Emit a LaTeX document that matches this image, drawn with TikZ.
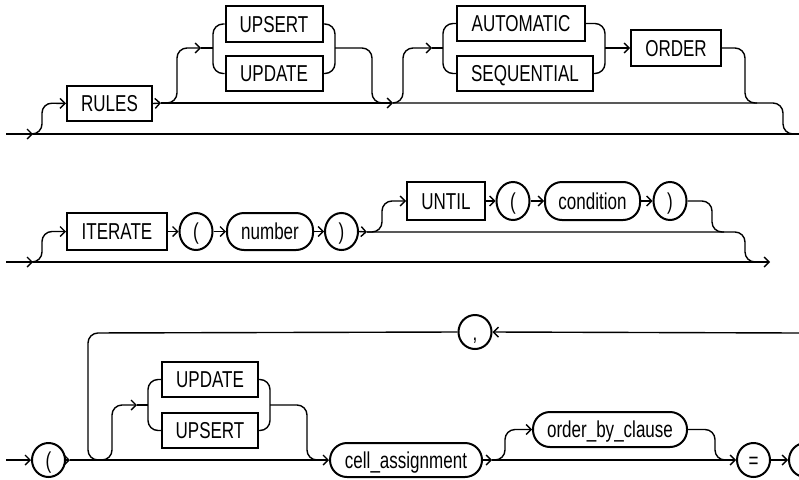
\documentclass[tikz,border=0pt]{standalone}
\usepackage{fontspec}
\setmainfont{Liberation Sans}[FakeStretch=0.74]
\usetikzlibrary{arrows.meta,shapes.geometric}
\begin{document}
\begin{tikzpicture}[x=1pt,y=-1pt,
  conn/.style={line width=1.4pt, rounded corners=10pt},
  arr/.style={-{Straight Barb[length=5pt,width=10pt]}},
  box/.style={draw, line width=2pt, inner sep=0pt, text height=16.5pt, text depth=0pt, font=\fontsize{23}{25}\selectfont},
  kwbox/.style={box, rectangle},
  termbox/.style={box, rectangle, rounded corners=17pt},
  circbox/.style={box, ellipse, minimum width=33pt},
]
\clip (0,0) rectangle (799,479);
\useasboundingbox (0,0) rectangle (799,479);

% ---------- row 1 ----------
\node[kwbox, minimum width=85pt, minimum height=35pt] (RULES) at (109.5,103.5) {RULES};
\node[kwbox, minimum width=97pt, minimum height=36pt] (UPSERTa) at (274,24) {UPSERT};
\node[kwbox, minimum width=97pt, minimum height=35pt] (UPDATEa) at (274,73.5) {UPDATE};
\node[kwbox, minimum width=128pt, minimum height=35pt] (AUTO) at (521,23.5) {AUTOMATIC};
\node[kwbox, minimum width=136pt, minimum height=35pt] (SEQ) at (525,73.5) {SEQUENTIAL};
\node[kwbox, minimum width=90pt, minimum height=36pt] (ORDER) at (676,48) {ORDER};

\coordinate (s1in) at (6,134);
\coordinate (s1f) at (33,134);
\coordinate (s1out) at (799,134);
\coordinate (k1) at (161,103);
\coordinate (k2) at (393,103);

\draw[conn,arr] (s1in) -- (s1f);
\draw[conn] (s1f) -- (s1out);
\draw[conn,arr] (s1f) -- (42,134) -- (42,103) -- (RULES.west);
\draw[conn,arr] (RULES.east) -- (k1);
\draw[conn,arr] (k1) -- (k2);
\draw[conn] (k2) -- (783,103) -- (783,134) -- (795,134);
% UPSERT / UPDATE
\draw[conn,arr] (k1) -- (177,103) -- (177,48) -- (201,48);
\draw[conn] (201,48) -- (213,48);
\draw[conn] (UPSERTa.west) -- (213,24) -- (213,73.5) -- (UPDATEa.west);
\draw[conn] (UPSERTa.east) -- (335,24) -- (335,73.5) -- (UPDATEa.east);
\draw[conn] (335,48) -- (372,48) -- (372,103) -- (384,103);
% AUTOMATIC / SEQUENTIAL ORDER
\draw[conn,arr] (k2) -- (403,103) -- (403,48) -- (432,48);
\draw[conn] (432,48) -- (443,48);
\draw[conn] (AUTO.west) -- (443,23.5) -- (443,73.5) -- (SEQ.west);
\draw[conn] (AUTO.east) -- (605,23.5) -- (605,73.5) -- (SEQ.east);
\draw[conn,arr] (605,48) -- (ORDER.west);
\draw[conn] (ORDER.east) -- (745,48) -- (745,103) -- (757,103);

% ---------- row 2 ----------
\node[kwbox, minimum width=100pt, minimum height=37pt] (ITER) at (117,231.5) {ITERATE};
\node[circbox, minimum height=37pt] (lpa) at (196,231.5) {(};
\node[termbox, minimum width=86pt, minimum height=37pt] (NUM) at (270,231.5) {number};
\node[circbox, minimum height=37pt] (rpa) at (341.5,231.5) {)};
\node[kwbox, minimum width=78pt, minimum height=38pt] (UNTIL) at (446,201) {UNTIL};
\node[circbox, minimum height=38pt] (lpb) at (513,201) {(};
\node[termbox, minimum width=95pt, minimum height=38pt] (COND) at (592.5,201) {condition};
\node[circbox, minimum height=38pt] (rpb) at (670,201) {)};

\coordinate (s2in) at (6,262);
\coordinate (s2f) at (33,262);
\coordinate (s2out) at (770,262);
\coordinate (k3) at (367,232);

\draw[conn,arr] (s2in) -- (s2f);
\draw[conn,arr] (s2f) -- (s2out);
\draw[conn,arr] (s2f) -- (42,262) -- (42,231.5) -- (ITER.west);
\draw[conn,arr] (ITER.east) -- (lpa.west);
\draw[conn,arr] (lpa.east) -- (NUM.west);
\draw[conn,arr] (NUM.east) -- (rpa.west);
\draw[conn,arr] (rpa.east) -- (k3);
\draw[conn] (k3) -- (745,232) -- (745,262) -- (757,262);
\draw[conn,arr] (k3) -- (382,232) -- (382,201) -- (UNTIL.west);
\draw[conn,arr] (UNTIL.east) -- (lpb.west);
\draw[conn,arr] (lpb.east) -- (COND.west);
\draw[conn,arr] (COND.east) -- (rpb.west);
\draw[conn] (rpb.east) -- (712,201) -- (712,232) -- (724,232);

% ---------- row 3 ----------
\node[circbox, minimum height=34pt] (lpc) at (48.5,460) {(};
\node[circbox, minimum height=34pt] (COMMA) at (475,332) {,};
\node[kwbox, minimum width=96pt, minimum height=35pt] (UPDATEb) at (210,379.5) {UPDATE};
\node[kwbox, minimum width=96pt, minimum height=35pt] (UPSERTb) at (210,430.5) {UPSERT};
\node[termbox, minimum width=152pt, minimum height=34pt] (CELL) at (406,460) {cell\_assignment};
\node[termbox, minimum width=154pt, minimum height=35pt] (OBC) at (610,429.5) {order\_by\_clause};
\node[circbox, minimum height=34pt] (EQ) at (753.5,460) {=};
\node[circbox, minimum height=34pt] (NEXT) at (805.5,460) {};

\coordinate (s3in) at (6,460);
\coordinate (m1) at (70,460);
\coordinate (m2) at (492,460);
\coordinate (loopin) at (799,333);

\draw[conn,arr] (s3in) -- (lpc.west);
\draw[conn,arr] (lpc.east) -- (m1);
\draw[conn,arr] (m1) -- (CELL.west);
\draw[conn,arr] (loopin) -- (COMMA.east);
\draw[conn] (COMMA.west) -- (88,333) -- (88,460) -- (100,460);
\draw[conn,arr] (102,460) -- (112,460) -- (112,405) -- (137,405);
\draw[conn] (137,405) -- (148,405);
\draw[conn] (UPDATEb.west) -- (148,379.5) -- (148,430.5) -- (UPSERTb.west);
\draw[conn] (UPDATEb.east) -- (270,379.5) -- (270,430.5) -- (UPSERTb.east);
\draw[conn] (270,405) -- (307,405) -- (307,460) -- (319,460);
\draw[conn,arr] (CELL.east) -- (m2);
\draw[conn,arr] (m2) -- (EQ.west);
\draw[conn,arr] (m2) -- (505,460) -- (505,429.5) -- (OBC.west);
\draw[conn] (OBC.east) -- (715,429.5) -- (715,460) -- (727,460);
\draw[conn,arr] (EQ.east) -- (NEXT.west);
\end{tikzpicture}
\end{document}
